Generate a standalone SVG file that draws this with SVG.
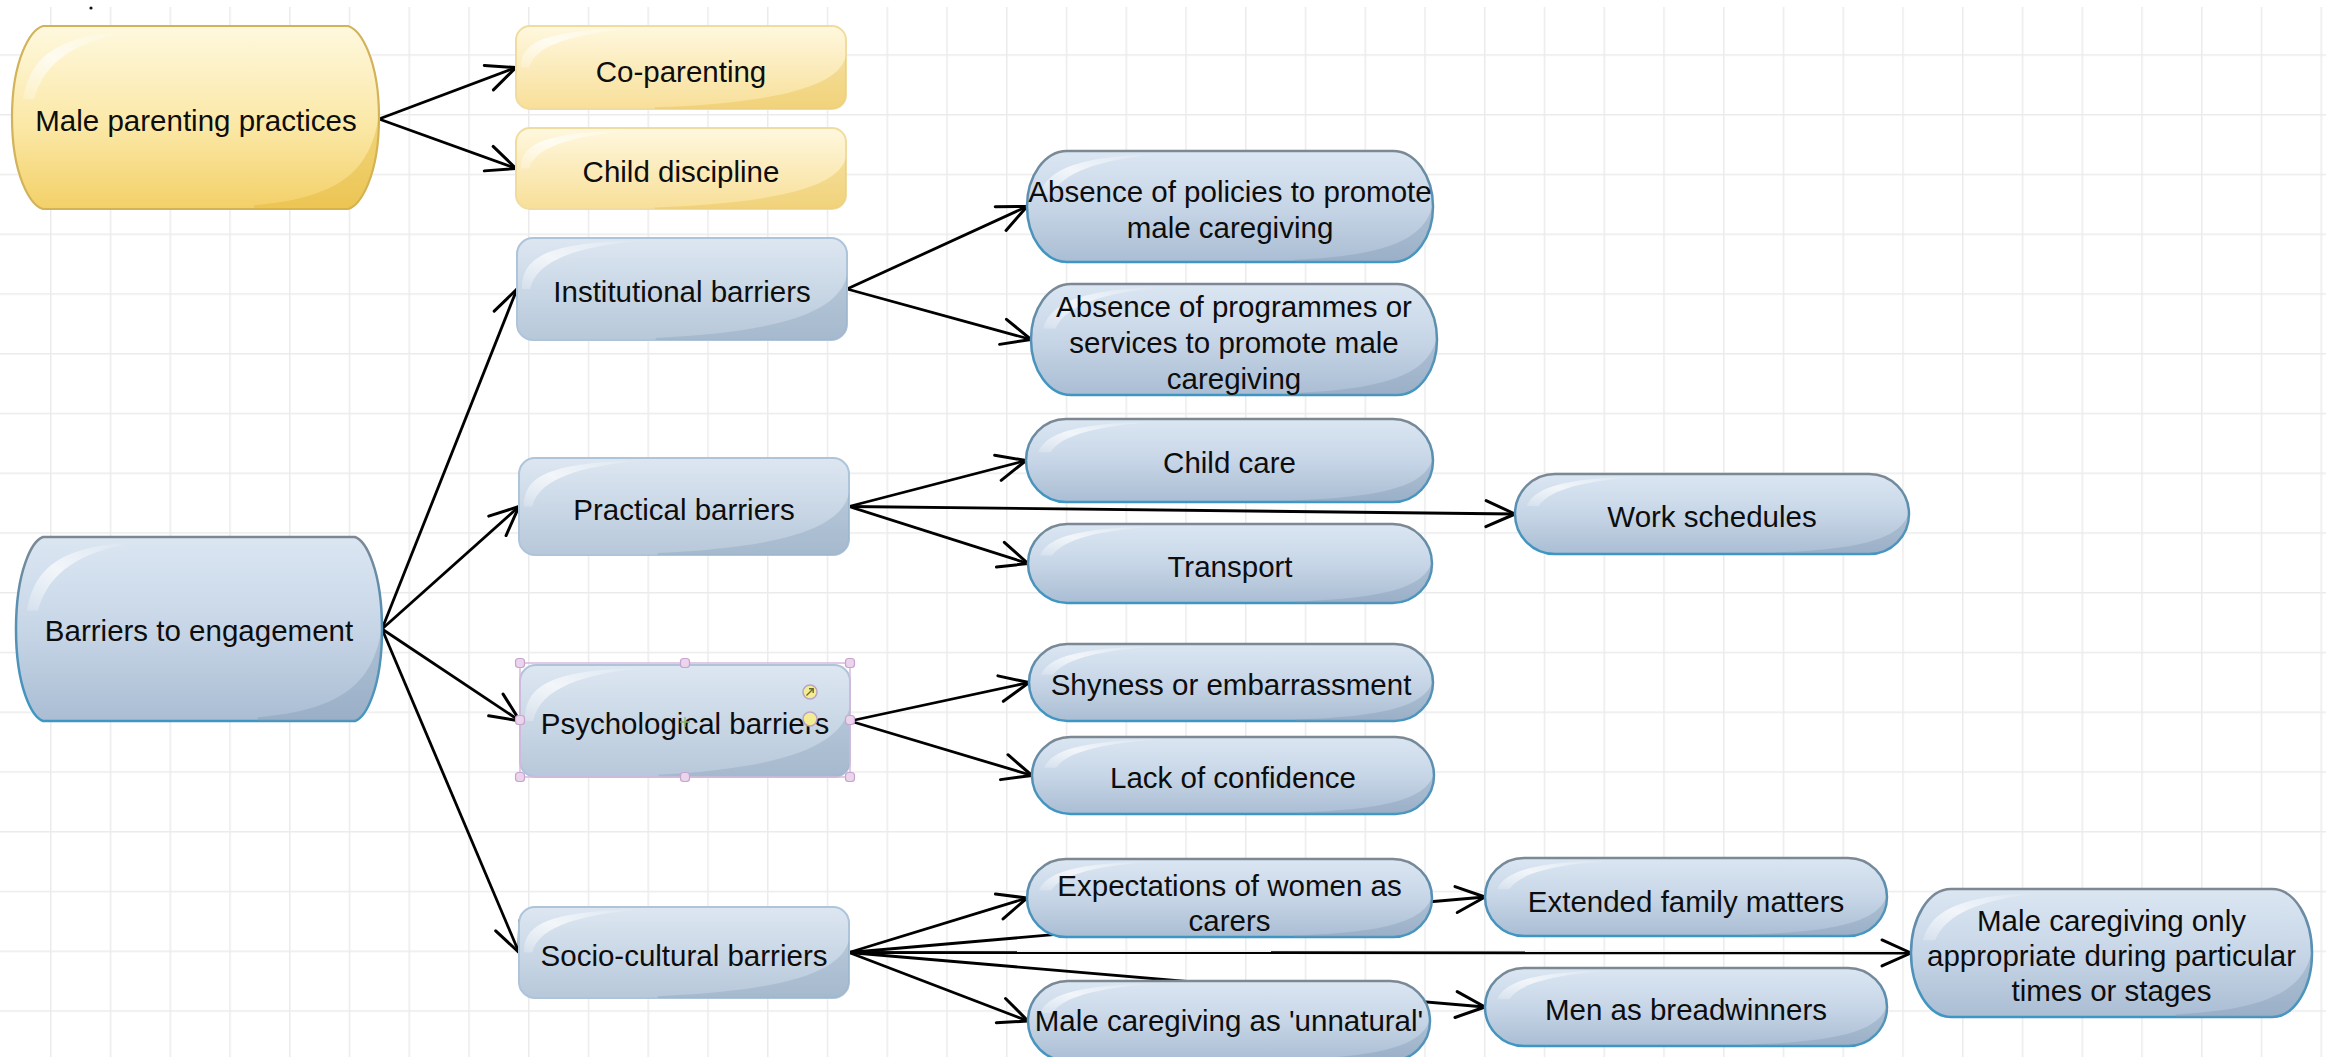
<svg xmlns="http://www.w3.org/2000/svg" xmlns:xlink="http://www.w3.org/1999/xlink" width="2326" height="1057" viewBox="0 0 2326 1057">
<style>
.t{font-family:"Liberation Sans",Arial,Helvetica,sans-serif;font-size:29.5px;fill:#0d0d0d;text-anchor:middle}
.bar{fill:url(#gBlue);stroke:url(#gStroke);stroke-width:2.5}
.rb{fill:url(#gBlueLight);stroke:#aec4d9;stroke-width:2}
.ry{fill:url(#gYelLight);stroke:#f1dc9f;stroke-width:2}
.yb{fill:url(#gYel);stroke:#d2b35a;stroke-width:2.2}
.e{fill:none;stroke:#000;stroke-width:2.8;marker-end:url(#arr)}
.hd{fill:#ead5ed;stroke:#c9a3cf;stroke-width:1.2}
</style>
<defs>
<pattern id="grid" x="50" y="54.25" width="59.75" height="59.75" patternUnits="userSpaceOnUse">
<path d="M0.75 0 V59.75 M0 0.75 H59.75" fill="none" stroke="#ebebeb" stroke-width="1.5"/>
</pattern>
<linearGradient id="gBlue" x1="0" y1="0" x2="0" y2="1"><stop offset="0" stop-color="#dbe6f2"/><stop offset="0.5" stop-color="#c7d6e7"/><stop offset="1" stop-color="#aabdd3"/></linearGradient>
<linearGradient id="gBlueLight" x1="0" y1="0" x2="0" y2="1"><stop offset="0" stop-color="#dde7f2"/><stop offset="1" stop-color="#b7c8da"/></linearGradient>
<linearGradient id="gYel" x1="0" y1="0" x2="0" y2="1"><stop offset="0" stop-color="#fef8de"/><stop offset="0.55" stop-color="#fbe8a6"/><stop offset="1" stop-color="#f3d068"/></linearGradient>
<linearGradient id="gYelLight" x1="0" y1="0" x2="0" y2="1"><stop offset="0" stop-color="#fff8df"/><stop offset="1" stop-color="#f8df98"/></linearGradient>
<linearGradient id="gStroke" x1="0" y1="0" x2="0" y2="1"><stop offset="0" stop-color="#7d8893"/><stop offset="0.35" stop-color="#5c8fb0"/><stop offset="1" stop-color="#3d96c4"/></linearGradient>
<linearGradient id="gHl" x1="0" y1="1" x2="1" y2="0"><stop offset="0" stop-color="#fff" stop-opacity="0.2"/><stop offset="0.45" stop-color="#fff" stop-opacity="0.7"/><stop offset="1" stop-color="#fff" stop-opacity="0"/></linearGradient>
<symbol id="shA" viewBox="0 0 100 100" preserveAspectRatio="none">
<path d="M100,36 C98,70 82,92 42,98 L42,101 L101,101 L101,36 Z"/>
<path fill="url(#gHl)" fill-opacity="1" d="M1.5,50 C1.5,20 8,4 38,2.5 C20,7.5 6,20 4,50 Z"/>
</symbol>
<symbol id="shB" viewBox="0 0 100 100" preserveAspectRatio="none">
<path d="M100,48 C98,78 90,94 66,98 L66,101 L101,101 L101,48 Z"/>
<path fill="url(#gHl)" fill-opacity="1" d="M3,40 C5,17 12,5 32,3 C18,8.5 9,18 6,40 Z"/>
</symbol>
<marker id="arr" markerUnits="userSpaceOnUse" viewBox="-32 -16 36 32" refX="0" refY="0" markerWidth="36" markerHeight="32" orient="auto">
<path d="M-29,-13 L0,0 L-29,13" fill="none" stroke="#000" stroke-width="3" stroke-linejoin="round" stroke-linecap="round"/>
</marker>
</defs>

<rect width="2326" height="1057" fill="#fff"/>
<rect x="0" y="7" width="2326" height="1050" fill="url(#grid)"/>
<circle cx="91" cy="8" r="1.6" fill="#111"/>

<g id="connectors">
<line class="e" x1="379" y1="119" x2="516" y2="67.5"/>
<line class="e" x1="379" y1="119" x2="516" y2="168.5"/>
<line class="e" x1="382" y1="629" x2="517" y2="289"/>
<line class="e" x1="382" y1="629" x2="519" y2="506.5"/>
<line class="e" x1="382" y1="629" x2="520" y2="721"/>
<line class="e" x1="382" y1="629" x2="519" y2="952.5"/>
<line class="e" x1="847" y1="289" x2="1027" y2="206.5"/>
<line class="e" x1="847" y1="289" x2="1031" y2="339.5"/>
<line class="e" x1="849" y1="506.5" x2="1026" y2="460.5"/>
<line class="e" x1="849" y1="506.5" x2="1515" y2="514"/>
<line class="e" x1="849" y1="506.5" x2="1028" y2="563.5"/>
<line class="e" x1="850" y1="721" x2="1029" y2="682.5"/>
<line class="e" x1="850" y1="721" x2="1032" y2="775.5"/>
<line class="e" x1="849" y1="952.5" x2="1027" y2="898"/>
<line class="e" x1="849" y1="952.5" x2="1485" y2="897"/>
<line class="e" x1="849" y1="952.5" x2="1911" y2="953"/>
<line class="e" x1="849" y1="952.5" x2="1485" y2="1007"/>
<line class="e" x1="849" y1="952.5" x2="1028" y2="1021"/>
</g>

<g id="node-male-parenting">
<path id="s1" class="yb" d="M43,26 H348 C360.4,29.7 379,59 379,117.5 C379,176 360.4,205.3 348,209 H43 C30.6,205.3 12,176 12,117.5 C12,59 30.6,29.7 43,26 Z"/>
<clipPath id="k1"><use href="#s1"/></clipPath>
<g clip-path="url(#k1)"><use href="#shB" x="12" y="26" width="367" height="183" fill="#e2b534" fill-opacity="0.4"/></g>
<text class="t" x="196" y="131">Male parenting practices</text>
</g>

<g id="node-co-parenting">
<rect id="s2" class="ry" x="516" y="26" width="330" height="83" rx="14"/>
<clipPath id="k2"><use href="#s2"/></clipPath>
<g clip-path="url(#k2)"><use href="#shA" x="516" y="26" width="330" height="83" fill="#e2b534" fill-opacity="0.3"/></g>
<text class="t" x="681" y="82">Co-parenting</text>
</g>

<g id="node-child-discipline">
<rect id="s3" class="ry" x="516" y="128" width="330" height="81" rx="14"/>
<clipPath id="k3"><use href="#s3"/></clipPath>
<g clip-path="url(#k3)"><use href="#shA" x="516" y="128" width="330" height="81" fill="#e2b534" fill-opacity="0.3"/></g>
<text class="t" x="681" y="181.5">Child discipline</text>
</g>

<g id="node-barriers">
<path id="s0" class="bar" d="M43,537 H355 C365.8,540.7 382,570.1 382,629 C382,687.9 365.8,717.3 355,721 H43 C32.2,717.3 16,687.9 16,629 C16,570.1 32.2,540.7 43,537 Z"/>
<clipPath id="k0"><use href="#s0"/></clipPath>
<g clip-path="url(#k0)"><use href="#shB" x="16" y="537" width="366" height="184" fill="#7f97b3" fill-opacity="0.35"/></g>
<text class="t" x="199" y="641">Barriers to engagement</text>
</g>

<g id="node-institutional">
<rect id="s4" class="rb" x="517" y="238" width="330" height="102" rx="16"/>
<clipPath id="k4"><use href="#s4"/></clipPath>
<g clip-path="url(#k4)"><use href="#shA" x="517" y="238" width="330" height="102" fill="#7f97b3" fill-opacity="0.3"/></g>
<text class="t" x="682" y="302">Institutional barriers</text>
</g>

<g id="node-practical">
<rect id="s5" class="rb" x="519" y="458" width="330" height="97" rx="16"/>
<clipPath id="k5"><use href="#s5"/></clipPath>
<g clip-path="url(#k5)"><use href="#shA" x="519" y="458" width="330" height="97" fill="#7f97b3" fill-opacity="0.3"/></g>
<text class="t" x="684" y="520">Practical barriers</text>
</g>

<g id="node-psychological">
<rect id="s6" class="rb" x="520" y="665" width="330" height="112" rx="16"/>
<clipPath id="k6"><use href="#s6"/></clipPath>
<g clip-path="url(#k6)"><use href="#shA" x="520" y="665" width="330" height="112" fill="#7f97b3" fill-opacity="0.3"/></g>
<text class="t" x="685" y="734">Psychological barriers</text>
<rect x="520" y="663" width="330" height="114" fill="none" stroke="#d9b8dd" stroke-width="1.5"/>
<rect class="hd" x="515.5" y="658.5" width="9" height="9" rx="3"/>
<rect class="hd" x="680.5" y="658.5" width="9" height="9" rx="3"/>
<rect class="hd" x="845.5" y="658.5" width="9" height="9" rx="3"/>
<rect class="hd" x="515.5" y="715.5" width="9" height="9" rx="3"/>
<rect class="hd" x="845.5" y="715.5" width="9" height="9" rx="3"/>
<rect class="hd" x="515.5" y="772.5" width="9" height="9" rx="3"/>
<rect class="hd" x="680.5" y="772.5" width="9" height="9" rx="3"/>
<rect class="hd" x="845.5" y="772.5" width="9" height="9" rx="3"/>
<circle cx="810" cy="692" r="7" fill="#f3ec93" stroke="#b9a3c6" stroke-width="1.5"/>
<path d="M806.5,695.5 L813,689 M809,688.8 H813.2 V693" fill="none" stroke="#6b6a2a" stroke-width="1.4"/>
<circle cx="810" cy="719" r="7" fill="#f3ec93" stroke="#b9a3c6" stroke-width="1.5"/>
<path d="M680,722 H690 M685,717 V727" stroke="#86b66f" stroke-width="1.3"/>
</g>

<g id="node-socio-cultural">
<rect id="s7" class="rb" x="519" y="907" width="330" height="91" rx="16"/>
<clipPath id="k7"><use href="#s7"/></clipPath>
<g clip-path="url(#k7)"><use href="#shA" x="519" y="907" width="330" height="91" fill="#7f97b3" fill-opacity="0.3"/></g>
<text class="t" x="684" y="966">Socio-cultural barriers</text>
</g>

<g id="node-policies">
<rect id="s8" class="bar" x="1027" y="151" width="406" height="111" rx="40" ry="55.5"/>
<clipPath id="k8"><use href="#s8"/></clipPath>
<g clip-path="url(#k8)"><use href="#shB" x="1027" y="151" width="406" height="111" fill="#7f97b3" fill-opacity="0.35"/></g>
<text class="t" x="1230" y="202">Absence of policies to promote</text>
<text class="t" x="1230" y="238">male caregiving</text>
</g>

<g id="node-programmes">
<rect id="s9" class="bar" x="1031" y="284" width="406" height="111" rx="40" ry="55.5"/>
<clipPath id="k9"><use href="#s9"/></clipPath>
<g clip-path="url(#k9)"><use href="#shB" x="1031" y="284" width="406" height="111" fill="#7f97b3" fill-opacity="0.35"/></g>
<text class="t" x="1234" y="317">Absence of programmes or</text>
<text class="t" x="1234" y="353">services to promote male</text>
<text class="t" x="1234" y="389">caregiving</text>
</g>

<g id="node-child-care">
<rect id="s10" class="bar" x="1026" y="419" width="407" height="83" rx="40" ry="41.5"/>
<clipPath id="k10"><use href="#s10"/></clipPath>
<g clip-path="url(#k10)"><use href="#shB" x="1026" y="419" width="407" height="83" fill="#7f97b3" fill-opacity="0.35"/></g>
<text class="t" x="1229.5" y="473">Child care</text>
</g>

<g id="node-transport">
<rect id="s11" class="bar" x="1028" y="524" width="404" height="79" rx="39.5" ry="39.5"/>
<clipPath id="k11"><use href="#s11"/></clipPath>
<g clip-path="url(#k11)"><use href="#shB" x="1028" y="524" width="404" height="79" fill="#7f97b3" fill-opacity="0.35"/></g>
<text class="t" x="1230" y="576.5">Transport</text>
</g>

<g id="node-work-schedules">
<rect id="s12" class="bar" x="1515" y="474" width="394" height="80" rx="40" ry="40"/>
<clipPath id="k12"><use href="#s12"/></clipPath>
<g clip-path="url(#k12)"><use href="#shB" x="1515" y="474" width="394" height="80" fill="#7f97b3" fill-opacity="0.35"/></g>
<text class="t" x="1712" y="526.5">Work schedules</text>
</g>

<g id="node-shyness">
<rect id="s13" class="bar" x="1029" y="644" width="404" height="77" rx="38.5" ry="38.5"/>
<clipPath id="k13"><use href="#s13"/></clipPath>
<g clip-path="url(#k13)"><use href="#shB" x="1029" y="644" width="404" height="77" fill="#7f97b3" fill-opacity="0.35"/></g>
<text class="t" x="1231" y="695">Shyness or embarrassment</text>
</g>

<g id="node-confidence">
<rect id="s14" class="bar" x="1032" y="737" width="402" height="77" rx="38.5" ry="38.5"/>
<clipPath id="k14"><use href="#s14"/></clipPath>
<g clip-path="url(#k14)"><use href="#shB" x="1032" y="737" width="402" height="77" fill="#7f97b3" fill-opacity="0.35"/></g>
<text class="t" x="1233" y="788">Lack of confidence</text>
</g>

<g id="node-expectations">
<rect id="s15" class="bar" x="1027" y="859" width="405" height="78" rx="39" ry="39"/>
<clipPath id="k15"><use href="#s15"/></clipPath>
<g clip-path="url(#k15)"><use href="#shB" x="1027" y="859" width="405" height="78" fill="#7f97b3" fill-opacity="0.35"/></g>
<text class="t" x="1229.5" y="895.5">Expectations of women as</text>
<text class="t" x="1229.5" y="931">carers</text>
</g>

<g id="node-unnatural">
<rect id="s16" class="bar" x="1028" y="981" width="402" height="80" rx="40" ry="40"/>
<clipPath id="k16"><use href="#s16"/></clipPath>
<g clip-path="url(#k16)"><use href="#shB" x="1028" y="981" width="402" height="80" fill="#7f97b3" fill-opacity="0.35"/></g>
<text class="t" x="1229" y="1031">Male caregiving as 'unnatural'</text>
</g>

<g id="node-extended-family">
<rect id="s17" class="bar" x="1485" y="858" width="402" height="78" rx="39" ry="39"/>
<clipPath id="k17"><use href="#s17"/></clipPath>
<g clip-path="url(#k17)"><use href="#shB" x="1485" y="858" width="402" height="78" fill="#7f97b3" fill-opacity="0.35"/></g>
<text class="t" x="1686" y="912">Extended family matters</text>
</g>

<g id="node-breadwinners">
<rect id="s18" class="bar" x="1485" y="968" width="402" height="78" rx="39" ry="39"/>
<clipPath id="k18"><use href="#s18"/></clipPath>
<g clip-path="url(#k18)"><use href="#shB" x="1485" y="968" width="402" height="78" fill="#7f97b3" fill-opacity="0.35"/></g>
<text class="t" x="1686" y="1020">Men as breadwinners</text>
</g>

<g id="node-male-only">
<rect id="s19" class="bar" x="1911" y="889" width="401" height="128" rx="40" ry="64"/>
<clipPath id="k19"><use href="#s19"/></clipPath>
<g clip-path="url(#k19)"><use href="#shB" x="1911" y="889" width="401" height="128" fill="#7f97b3" fill-opacity="0.35"/></g>
<text class="t" x="2111.5" y="930.5">Male caregiving only</text>
<text class="t" x="2111.5" y="965.5">appropriate during particular</text>
<text class="t" x="2111.5" y="1000.5">times or stages</text>
</g>
</svg>
